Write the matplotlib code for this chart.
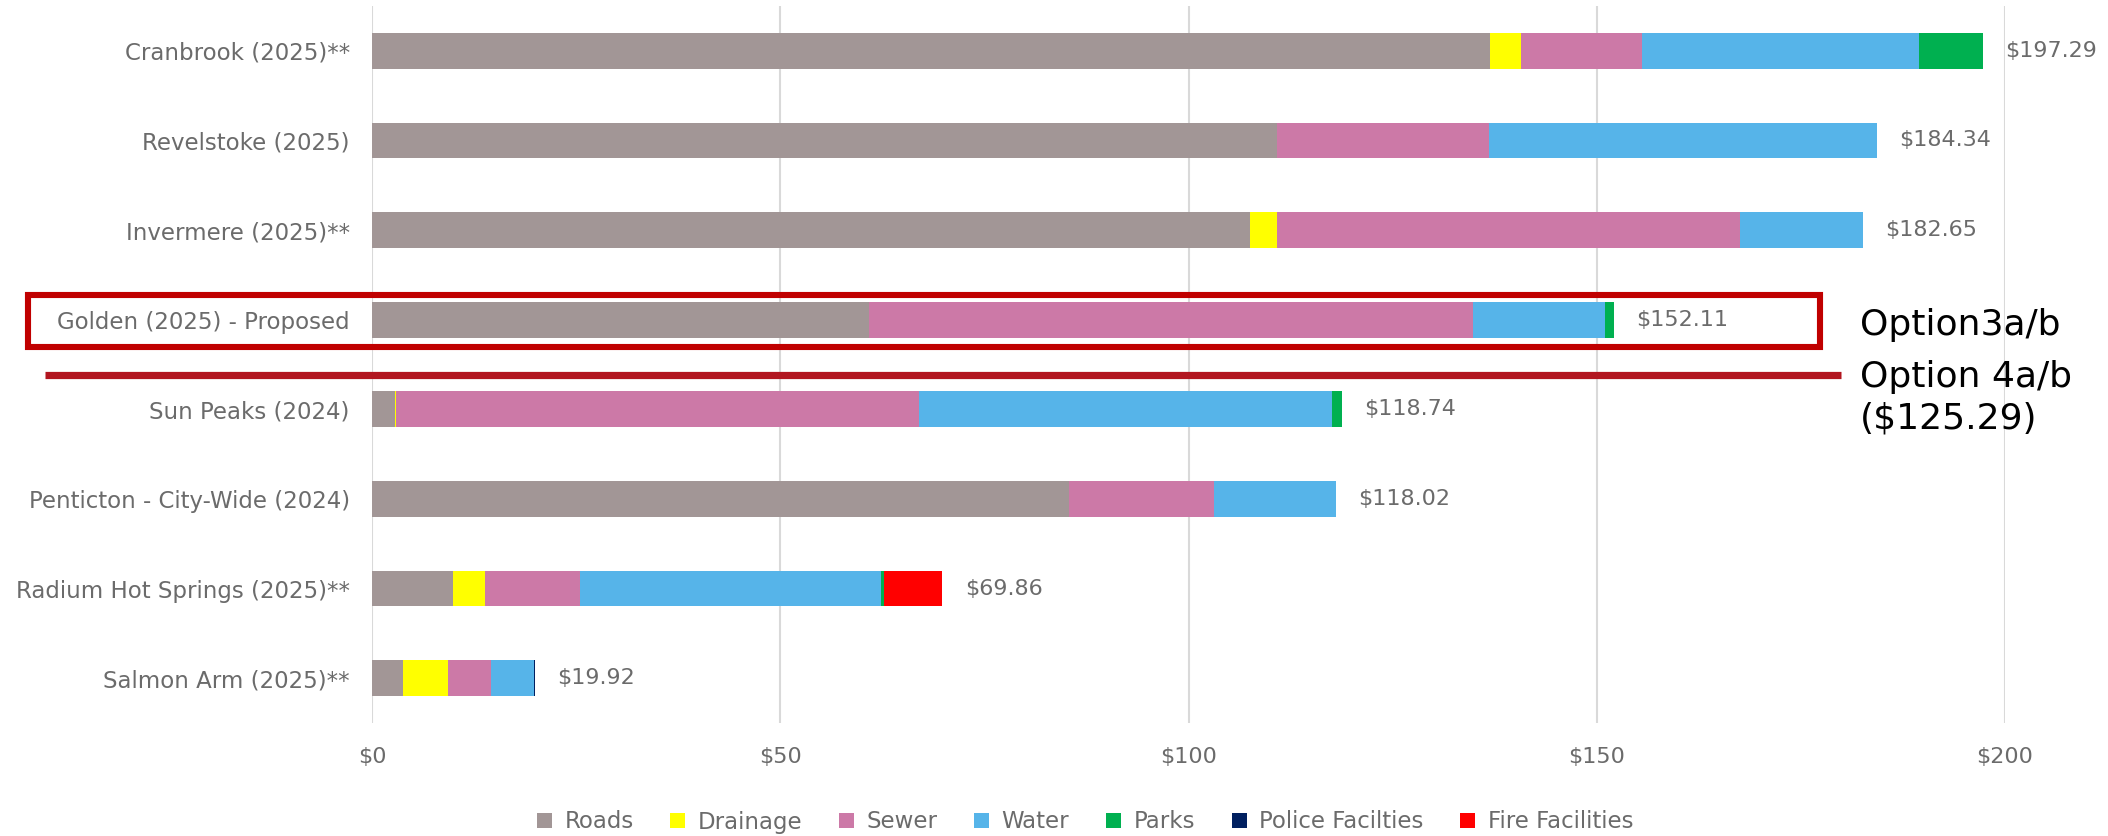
import matplotlib
matplotlib.use("Agg")
import matplotlib.pyplot as plt
import matplotlib.transforms as mtransforms
from matplotlib.patches import Rectangle
from matplotlib.lines import Line2D
import numpy as np

# Chart data (per-household cost by service, top to bottom)
communities = [
    "Cranbrook (2025)**",
    "Revelstoke (2025)",
    "Invermere (2025)**",
    "Golden (2025) - Proposed",
    "Sun Peaks (2024)",
    "Penticton - City-Wide (2024)",
    "Radium Hot Springs (2025)**",
    "Salmon Arm (2025)**",
]
roads = [136.9, 110.8, 107.5, 60.9, 2.8, 85.4, 9.9, 3.8]
drainage = [3.8, 0, 3.3, 0, 0.2, 0, 4.0, 5.5]
sewer = [14.8, 26.0, 56.7, 73.9, 64.0, 17.7, 11.6, 5.3]
water = [34.0, 47.54, 15.15, 16.2, 50.6, 14.92, 36.9, 5.2]
parks = [7.79, 0, 0, 1.11, 1.14, 0, 0.3, 0]
police = [0, 0, 0, 0, 0, 0, 0, 0.12]
fire = [0, 0, 0, 0, 0, 0, 7.16, 0]

series_names = ["Roads", "Drainage", "Sewer", "Water", "Parks",
                "Police Facilties", "Fire Facilities"]
series_vals = [roads, drainage, sewer, water, parks, police, fire]
colors = ["#A29696", "#FFFF00", "#CC79A7", "#56B4E9", "#00B050",
          "#002060", "#FF0000"]

x_ticks = [0, 50, 100, 150, 200]
option3_label = "Option3a/b"
option4_label = "Option 4a/b"
option4_value = "($125.29)"

W, H = 2108, 836
fig = plt.figure(figsize=(W / 100, H / 100), dpi=100)
ax = fig.add_axes([372 / W, 1 - 723 / H, (2005 - 372) / W, 717 / H])

gray_txt = "#6B6B6B"
y = np.arange(len(communities))
left = np.zeros(len(communities))
for name, vals, c in zip(series_names, series_vals, colors):
    vals = np.array(vals, dtype=float)
    ax.barh(y, vals, left=left, height=0.4, color=c, label=name,
            linewidth=0, zorder=3)
    left += vals

for yi, total in zip(y, left):
    ax.annotate(f"${total:.2f}", xy=(total, yi), xytext=(16, 0),
                textcoords="offset points", va="center", ha="left",
                fontsize=16, color=gray_txt)

ax.set_xlim(0, 200)
ax.set_ylim(len(communities) - 0.5, -0.5)
ax.set_yticks(y)
ax.set_yticklabels(communities, fontsize=16.5)
ax.set_xticks(x_ticks)
ax.set_xticklabels([f"${t}" for t in x_ticks], fontsize=16)
ax.tick_params(axis="both", length=0, labelcolor=gray_txt)
ax.tick_params(axis="y", pad=16)
ax.tick_params(axis="x", pad=17)
ax.grid(axis="x", color="#D9D9D9", linewidth=1.5, zorder=0)
ax.set_axisbelow(True)
for s in ax.spines.values():
    s.set_visible(False)

# highlight box around Golden and the Option 4 separator line
trans = mtransforms.blended_transform_factory(fig.transFigure, ax.transData)
box = Rectangle((28 / W, 2.72), (1820 - 28) / W, 0.59, transform=trans,
                fill=False, edgecolor="#C00000", linewidth=4.4,
                clip_on=False, zorder=5)
fig.add_artist(box)
sep = Line2D([45 / W, 1841 / W], [3.62, 3.62], transform=trans,
             color="#B2151F", linewidth=5.2, solid_capstyle="butt",
             clip_on=False, zorder=5)
fig.add_artist(sep)

fig.text(1860 / W, 3.06, option3_label, transform=trans, fontsize=26,
         color="black", va="center", ha="left")
fig.text(1860 / W, 3.64, option4_label, transform=trans, fontsize=26,
         color="black", va="center", ha="left")
fig.text(1860 / W, 4.10, option4_value, transform=trans, fontsize=26,
         color="black", va="center", ha="left")

fig.legend(*ax.get_legend_handles_labels(), loc="center",
           bbox_to_anchor=(1085 / W, 1 - 822 / H), ncol=7, frameon=False,
           fontsize=16.5, labelcolor=gray_txt, handlelength=0.65,
           handleheight=0.65, handletextpad=0.55, columnspacing=1.6)

fig.savefig("out.png", dpi=100)
